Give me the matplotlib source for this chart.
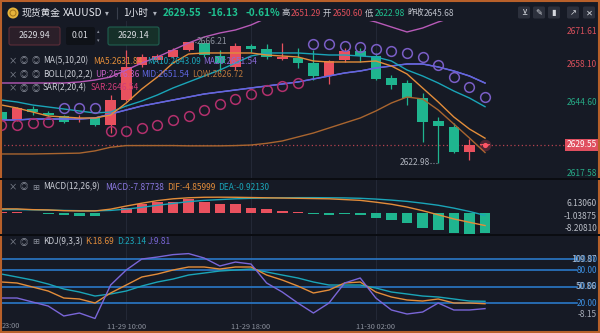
import matplotlib
matplotlib.use('Agg')
import numpy as np
import matplotlib.pyplot as plt
import matplotlib.transforms as mtransforms
from matplotlib.patches import Rectangle, FancyBboxPatch, Circle

plt.rcParams['font.family'] = ['Noto Sans CJK SC', 'DejaVu Sans']

# ---- XAUUSD 1h candles ----
opens = [2641.19, 2638.34, 2642.27, 2640.84, 2639.77, 2638.69, 2639.05, 2636.55, 2645.48, 2657.98,
         2659.77, 2660.84, 2663.34, 2665.84, 2661.19, 2657.27, 2664.77, 2663.69, 2660.12, 2660.48,
         2658.69, 2654.05, 2659.77, 2662.98, 2661.19, 2653.34, 2651.55, 2646.19, 2637.98, 2635.84,
         2626.91, 2629.41]
highs = [2641.91, 2642.98, 2643.34, 2641.55, 2640.12, 2640.12, 2639.41, 2647.27, 2663.34, 2661.91,
         2661.91, 2664.05, 2666.21, 2665.90, 2663.34, 2665.84, 2665.50, 2665.48, 2665.84, 2664.05,
         2663.34, 2659.77, 2664.05, 2664.05, 2662.27, 2654.41, 2652.62, 2647.98, 2639.41, 2637.27,
         2631.55, 2629.77]
lows = [2637.62, 2637.98, 2640.12, 2639.77, 2637.27, 2637.62, 2636.19, 2633.69, 2645.12, 2657.27,
        2659.05, 2660.48, 2662.98, 2660.84, 2655.48, 2656.19, 2662.62, 2660.12, 2659.77, 2656.91,
        2652.62, 2651.19, 2659.05, 2659.05, 2652.62, 2649.41, 2643.69, 2630.48, 2622.98, 2626.55,
        2624.05, 2629.41]
closes = [2638.34, 2642.62, 2641.19, 2640.12, 2637.62, 2639.05, 2636.55, 2645.48, 2657.27, 2660.84,
          2661.19, 2663.34, 2666.19, 2661.55, 2658.69, 2664.77, 2663.69, 2660.84, 2660.84, 2658.69,
          2654.05, 2659.41, 2662.98, 2661.19, 2652.98, 2650.84, 2646.19, 2637.62, 2636.19, 2626.91,
          2629.41, 2629.55]

ma5 = [2643.69, 2642.62, 2641.19, 2639.77, 2639.41, 2639.05, 2639.05, 2640.12, 2644.41, 2649.41,
       2653.69, 2658.69, 2661.91, 2662.27, 2662.27, 2662.27, 2662.27, 2661.55, 2661.19, 2660.84,
       2659.41, 2659.05, 2659.05, 2659.05, 2659.41, 2657.62, 2654.77, 2649.77, 2644.77, 2639.41,
       2635.12, 2631.84]
ma10 = [2645.48, 2644.77, 2643.69, 2642.98, 2642.27, 2641.55, 2640.84, 2641.19, 2643.34, 2645.12,
        2647.27, 2649.77, 2651.91, 2654.05, 2656.19, 2658.69, 2661.19, 2662.27, 2662.27, 2662.27,
        2661.91, 2661.55, 2661.55, 2661.19, 2660.84, 2659.41, 2656.19, 2654.05, 2651.55, 2648.69,
        2646.19, 2643.09]
ma20 = [2638.34, 2638.34, 2638.69, 2638.69, 2638.69, 2638.69, 2639.05, 2640.48, 2641.91, 2643.34,
        2644.41, 2645.48, 2646.55, 2647.62, 2648.34, 2649.05, 2649.77, 2650.48, 2651.19, 2651.91,
        2652.98, 2654.05, 2655.12, 2655.84, 2656.91, 2657.62, 2658.34, 2658.34, 2657.27, 2655.84,
        2654.05, 2651.54]
boll_up = [2651.55, 2651.55, 2651.55, 2651.55, 2651.55, 2651.91, 2652.62, 2653.69, 2656.19, 2658.69,
           2660.84, 2663.34, 2665.84, 2667.98, 2669.41, 2670.48, 2672.27, 2674.77, 2675.48, 2675.84,
           2675.84, 2675.84, 2675.48, 2674.77, 2673.34, 2671.55, 2669.77, 2671.19, 2673.34, 2675.12,
           2676.19, 2676.36]
boll_low = [2626.2, 2626.2, 2626.2, 2626.3, 2626.4, 2626.5, 2627.3, 2628.6, 2629.2, 2629.2,
            2629.2, 2629.2, 2629.1, 2629.1, 2629.1, 2629.2, 2629.4, 2630.0, 2630.84, 2632.27,
            2633.69, 2635.48, 2637.27, 2639.05, 2641.55, 2644.41, 2646.55, 2645.84, 2641.91, 2636.91,
            2631.91, 2626.72]
sar = [2636.55, 2636.55, 2637.27, 2637.62, 2642.62, 2642.62, 2642.62, 2634.41, 2634.41, 2635.48,
       2636.55, 2638.34, 2639.77, 2641.91, 2644.05, 2645.84, 2647.62, 2649.05, 2650.48, 2651.55,
       2665.48, 2665.48, 2664.77, 2664.41, 2663.70, 2662.98, 2662.27, 2660.84, 2657.98, 2653.70,
       2650.12, 2646.54]

macd_hist = [0.5, 0.4, 0.15, -0.3, -0.6, -1.0, -1.3, -0.15, 1.9, 3.5, 4.3, 4.3, 5.4, 4.3, 3.5, 3.5,
             1.9, 1.6, 0.8, 0.2, -0.5, -0.7, -0.5, -0.6, -1.9, -2.7, -3.9, -5.8, -6.6, -7.6, -8.2081,
             -7.87738]
dif = [1.6, 1.6, 1.3, 1.2, 0.9, 0.8, 0.8, 1.5, 2.7, 3.8, 4.8, 5.5, 5.9, 6.1, 6.1306, 6.1, 6.0, 5.9,
       5.8, 5.7, 5.6, 5.5, 5.2, 4.9, 4.2, 3.4, 2.3, 0.9, -0.7, -2.3, -3.6, -4.85999]
dea = [1.3, 1.3, 1.25, 1.1, 1.0, 0.9, 0.85, 1.0, 1.5, 2.2, 3.0, 3.7, 4.4, 4.9, 5.2, 5.5, 5.7, 5.8,
       5.9, 5.95, 5.95, 5.9, 5.85, 5.7, 5.4, 5.0, 4.5, 3.8, 3.0, 1.9, 0.6, -0.9213]

k_line = [58.2, 56.4, 49.1, 41.8, 29.1, 27.3, 20.0, 38.2, 52.7, 67.3, 72.7, 80.0, 85.5, 85.5, 81.8,
          85.5, 85.5, 70.9, 61.8, 50.9, 38.2, 43.6, 56.4, 58.2, 40.0, 30.9, 25.5, 23.6, 27.3, 20.0,
          20.0, 18.69]
d_line = [72.7, 67.3, 61.8, 54.5, 45.5, 40.0, 32.7, 36.4, 41.8, 50.9, 58.2, 63.6, 70.9, 74.5, 78.2,
          80.0, 81.8, 76.4, 70.9, 65.5, 58.2, 52.7, 52.7, 52.7, 47.3, 40.0, 36.4, 32.7, 30.9, 27.3,
          23.6, 23.14]
j_line = [29.1, 29.1, 21.8, 14.5, -3.6, 1.8, -8.15, 52.7, 80.0, 100.0, 103.6, 108.0, 109.87, 101.8,
          87.3, 94.5, 90.9, 56.4, 40.0, 20.0, 1.8, 20.0, 56.4, 65.5, 29.1, 7.3, 0.0, 3.6, 20.0, 7.3,
          7.3, 9.81]

time_ticks = [0, 8, 16, 24]
time_labels = ['23:00', '11-29 10:00', '11-29 18:00', '11-30 02:00']
price_ticks = [2671.61, 2658.10, 2644.60, 2617.58]
prev_close = 2645.68
kdj_levels = [100, 80, 50, 20]

# colours
BG = '#161a25'
GRID = '#232836'
RED = '#e9515e'
GREEN = '#1fb58f'
C_MA5 = '#e38d3a'
C_MA10 = '#1aa5b8'
C_MA20 = '#8a6ad8'
C_MID = '#5f66e0'
C_UP = '#b85ab8'
C_LOW = '#a9652f'
C_SAR_LO = '#b2306c'
C_SAR_HI = '#7a5ec6'
C_J = '#7a66d8'
C_LVL = '#2a78c8'
TXT = '#c9ccd4'
MUTED = '#8b909c'

W, H = 600, 333
fig = plt.figure(figsize=(W / 100, H / 100), dpi=100)
fig.patch.set_facecolor(BG)
XL = (-0.09, 38.37)


def panel(top, bottom):
    ax = fig.add_axes([0, 1 - bottom / H, 1, (bottom - top) / H])
    ax.set_facecolor(BG)
    ax.set_xlim(*XL)
    for s in ax.spines.values():
        s.set_visible(False)
    ax.tick_params(left=False, bottom=False, labelleft=False, labelbottom=False)
    for g in time_ticks:
        ax.axvline(g, color=GRID, lw=0.8, zorder=0)
    return ax


x = np.arange(len(closes))
o, h, l, c = (np.array(v) for v in (opens, highs, lows, closes))
col = np.where(c >= o, RED, GREEN)

# ---------------- main price panel ----------------
ax = panel(21, 178)
ax.set_ylim(2617.62, 2673.69)
ax.vlines(x, l, h, colors=col, lw=0.9, zorder=3)
ax.bar(x, np.maximum(np.abs(c - o), 0.3), bottom=np.minimum(o, c), width=0.68, color=col, zorder=4)

ax.plot(x, boll_up, color=C_UP, lw=1, zorder=5)
ax.plot(x, boll_low, color=C_LOW, lw=1, zorder=5)
ax.plot(x, ma20, color=C_MA20, lw=1, zorder=5)
ax.plot(x, ma20, color=C_MID, lw=1, zorder=5)
ax.plot(x, ma10, color=C_MA10, lw=1, zorder=5)
ax.plot(x, ma5, color=C_MA5, lw=1, zorder=5)

sar_a = np.array(sar)
above = sar_a > c
ax.plot(x[~above], sar_a[~above], 'o', ms=7, mfc='none', mec=C_SAR_LO, mew=1.1, zorder=6)
ax.plot(x[above], sar_a[above], 'o', ms=7, mfc='none', mec=C_SAR_HI, mew=1.1, zorder=6)

last = closes[-1]
ax.hlines(last, XL[0], 36.13, colors='#b5424f', linestyles=(0, (1, 2)), lw=0.9, zorder=2)
ax.scatter([x[-1]], [last], s=70, color='#ff4d5e', alpha=0.25, zorder=7, lw=0)
ax.scatter([x[-1]], [last], s=14, color='#ff5566', zorder=8, lw=0)

ih = int(np.argmax(h))
ax.plot([ih, ih + 0.5], [h[ih], h[ih]], ls=':', color=MUTED, lw=0.8, zorder=6)
ax.text(ih + 0.55, h[ih], f'{h[ih]:.2f}', color=MUTED, fontsize=6, va='center', ha='left', zorder=6)
il = int(np.argmin(l))
ax.plot([il - 0.5, il], [l[il], l[il]], ls=':', color=MUTED, lw=0.8, zorder=6)
ax.text(il - 0.55, l[il], f'{l[il]:.2f}', color='#aeb2bc', fontsize=6, va='center', ha='right', zorder=6)

tr = mtransforms.blended_transform_factory(ax.transAxes, ax.transData)
for i, p in enumerate(price_ticks):
    va = 'top' if i == 0 else ('bottom' if i == len(price_ticks) - 1 else 'center')
    ax.text(0.995, p, f'{p:.2f}', transform=tr, ha='right', va=va, fontsize=6,
            color='#d9505c' if p > prev_close else '#26aa86')
ax.add_patch(Rectangle((565 / W, last - 2.15), 35 / W, 4.3, transform=tr, fc='#e04f5f', ec='none',
                       clip_on=False, zorder=9))
ax.text(0.995, last, f'{last:.2f}', transform=tr, ha='right', va='center', fontsize=6,
        color='white', zorder=10)

# ---------------- MACD panel ----------------
axm = panel(178, 234)
axm.set_ylim(-8.14, 13.57)
hist = np.array(macd_hist)
axm.bar(x, hist, width=0.68, color=np.where(hist >= 0, RED, GREEN), zorder=3)
axm.plot(x, dea, color=C_MA10, lw=1, zorder=4)
axm.plot(x, dif, color=C_MA5, lw=1, zorder=4)
vals = np.concatenate([hist, dif, dea])
mx, mn = vals.max(), vals.min()
for v, fy in zip([mx, (mx + mn) / 2, mn], [0.536, 0.321, 0.107]):
    axm.text(0.995, fy, f'{v:.5f}', transform=axm.transAxes, ha='right', va='center',
             fontsize=6, color='#b9bdc6')

# ---------------- KDJ panel ----------------
axk = panel(234, 320)
axk.set_ylim(-10.9, 145.5)
trk = mtransforms.blended_transform_factory(axk.transAxes, axk.transData)
for v in kdj_levels:
    axk.axhline(v, xmax=577 / W, color=C_LVL, lw=1.2, zorder=2)
    axk.text(0.995, v, f'{v:.2f}', transform=trk, ha='right', va='center', fontsize=6, color='#3d8fe0')
axk.plot(x, d_line, color=C_MA10, lw=1, zorder=4)
axk.plot(x, k_line, color=C_MA5, lw=1, zorder=4)
axk.plot(x, j_line, color=C_J, lw=1, zorder=4)
jmax, jmin = max(j_line), min(j_line)
for v, yy in zip([jmax, (jmax + jmin) / 2, jmin], [100, 50, 0]):
    axk.text(0.995, yy, f'{v:.2f}', transform=trk, ha='right', va='center', fontsize=6,
             color='#c0c6d2', alpha=0.85)
axk.set_xticks(time_ticks[1:], time_labels[1:])
axk.tick_params(labelbottom=True, length=0, pad=2, labelsize=5.3, labelcolor=MUTED)

# ---------------- UI overlay (header, boxes, legends) ----------------
ui = fig.add_axes([0, 0, 1, 1])
ui.set_xlim(0, W)
ui.set_ylim(H, 0)
ui.axis('off')

ui.hlines([178.5, 234.5], 0, W, colors='#0a0c11', lw=1.4)
# first time label is cut by the left edge in the original, only "23:00" shows
ui.text(2, 326.5, time_labels[0], fontsize=5.3, color=MUTED, ha='left', va='center')

# header
ui.add_patch(Circle((13, 13), 5.5, fc='#e7b53b', ec='none'))
ui.add_patch(Circle((13, 13), 3, fc='none', ec='#a8791d', lw=0.8))
ui.text(22, 13, '现货黄金', fontsize=7, color='#e6e8ee', va='center')
ui.text(63, 13, 'XAUUSD', fontsize=7.3, color='#e6e8ee', va='center')
ui.text(107, 13, '▾', fontsize=5.5, color='#aeb2bc', va='center', ha='center')
ui.vlines(117, 7, 19, colors='#3a3f4c', lw=0.8)
ui.text(123, 13, '1小时', fontsize=7, color='#e6e8ee', va='center')
ui.text(155, 13, '▾', fontsize=5.5, color='#aeb2bc', va='center', ha='center')
ui.text(163, 13, f'{last:.2f}', fontsize=7.2, color='#1fc08f', va='center', fontweight='bold')
ui.text(208, 13, f'{last - prev_close:.2f}', fontsize=7.2, color='#1fc08f', va='center', fontweight='bold')
ui.text(245, 13, f'{(last - prev_close) / prev_close * 100:.2f}%', fontsize=7.2, color='#1fc08f',
        va='center', fontweight='bold')
for lbl, xl, val, xv, cc in [('高', 282, '2651.29', 291, '#e0505c'), ('开', 323, '2650.60', 333, '#e0505c'),
                             ('低', 365, f'{min(lows):.2f}', 375, '#1fc08f'),
                             ('昨收', 407, f'{prev_close:.2f}', 424, '#b9bdc7')]:
    ui.text(xl, 13, lbl, fontsize=6, color='#c9ccd4', va='center')
    ui.text(xv, 13, val, fontsize=6, color=cc, va='center')
for xi, g in zip([518, 533, 548, 567, 583], ['⊻', '✎', '▮', '↗', '✕']):
    ui.add_patch(FancyBboxPatch((xi, 6.5), 12, 12, boxstyle='round,pad=0,rounding_size=1.5',
                                fc='#2c303c', ec='none'))
    ui.text(xi + 6, 12.7, g, fontsize=6, color='#d5d8de', ha='center', va='center',
            family=['DejaVu Sans'])

# order boxes
ui.add_patch(FancyBboxPatch((9, 27), 51, 18, boxstyle='round,pad=0,rounding_size=2',
                            fc='#2b1f29', ec='#5b2d38', lw=0.8))
ui.text(34.5, 36, '2629.94', fontsize=6.3, color='#d8dae0', ha='center', va='center')
ui.add_patch(FancyBboxPatch((66, 27), 29, 18, boxstyle='round,pad=0,rounding_size=2',
                            fc='#0f1218', ec='none'))
ui.text(80, 36, '0.01', fontsize=6.3, color='#d8dae0', ha='center', va='center')
ui.text(98, 31.5, '▴', fontsize=3.5, color=MUTED, ha='center', va='center')
ui.text(98, 41, '▾', fontsize=3.5, color=MUTED, ha='center', va='center')
ui.add_patch(FancyBboxPatch((108, 27), 51, 18, boxstyle='round,pad=0,rounding_size=2',
                            fc='#163029', ec='#1f5f50', lw=0.8))
ui.text(133.5, 36, '2629.14', fontsize=6.3, color='#d8dae0', ha='center', va='center')


def legend_row(y, icons, items):
    for xi, g in zip([13, 24, 36], icons):
        ui.text(xi, y, g, fontsize=6, color=MUTED, ha='center', va='center')
    for txt, xt, cc in items:
        ui.text(xt, y, txt, fontsize=6, color=cc, va='center')


legend_row(61, ['×', '◎', '◎'], [('MA(5,10,20)', 43, TXT), (f'MA5:{ma5[-1]:.2f}', 93, C_MA5),
                                   (f'MA10:{ma10[-1]:.2f}', 147, C_MA10), (f'MA20:{ma20[-1]:.2f}', 203, C_MA20)])
legend_row(74.5, ['×', '◎', '◎'], [('BOLL(20,2,2)', 43, TXT), (f'UP:{boll_up[-1]:.2f}', 95, '#c15dc0'),
                                     (f'MID:{ma20[-1]:.2f}', 141, C_MID), (f'LOW:{boll_low[-1]:.2f}', 192, '#b8763c')])
legend_row(88, ['×', '◎', '◎'], [('SAR(2,20,4)', 43, TXT), (f'SAR:{sar[-1]:.2f}', 91, '#d03c7a')])
legend_row(187, ['×', '◎', '⊞'], [('MACD(12,26,9)', 43, TXT), (f'MACD:{macd_hist[-1]:.5f}', 105, '#8a78e0'),
                                   (f'DIF:{dif[-1]:.5f}', 167, C_MA5), (f'DEA:{dea[-1]:.5f}', 218, C_MA10)])
legend_row(242, ['×', '◎', '⊞'], [('KDJ(9,3,3)', 43, TXT), (f'K:{k_line[-1]:.2f}', 85, C_MA5),
                                   (f'D:{d_line[-1]:.2f}', 117, C_MA10), (f'J:{j_line[-1]:.2f}', 148, C_J)])

ui.add_patch(Rectangle((0.75, 0.75), W - 1.5, H - 1.5, fc='none', ec='#b8602a', lw=1.5))

fig.savefig('out.png', dpi=100, facecolor=BG)
